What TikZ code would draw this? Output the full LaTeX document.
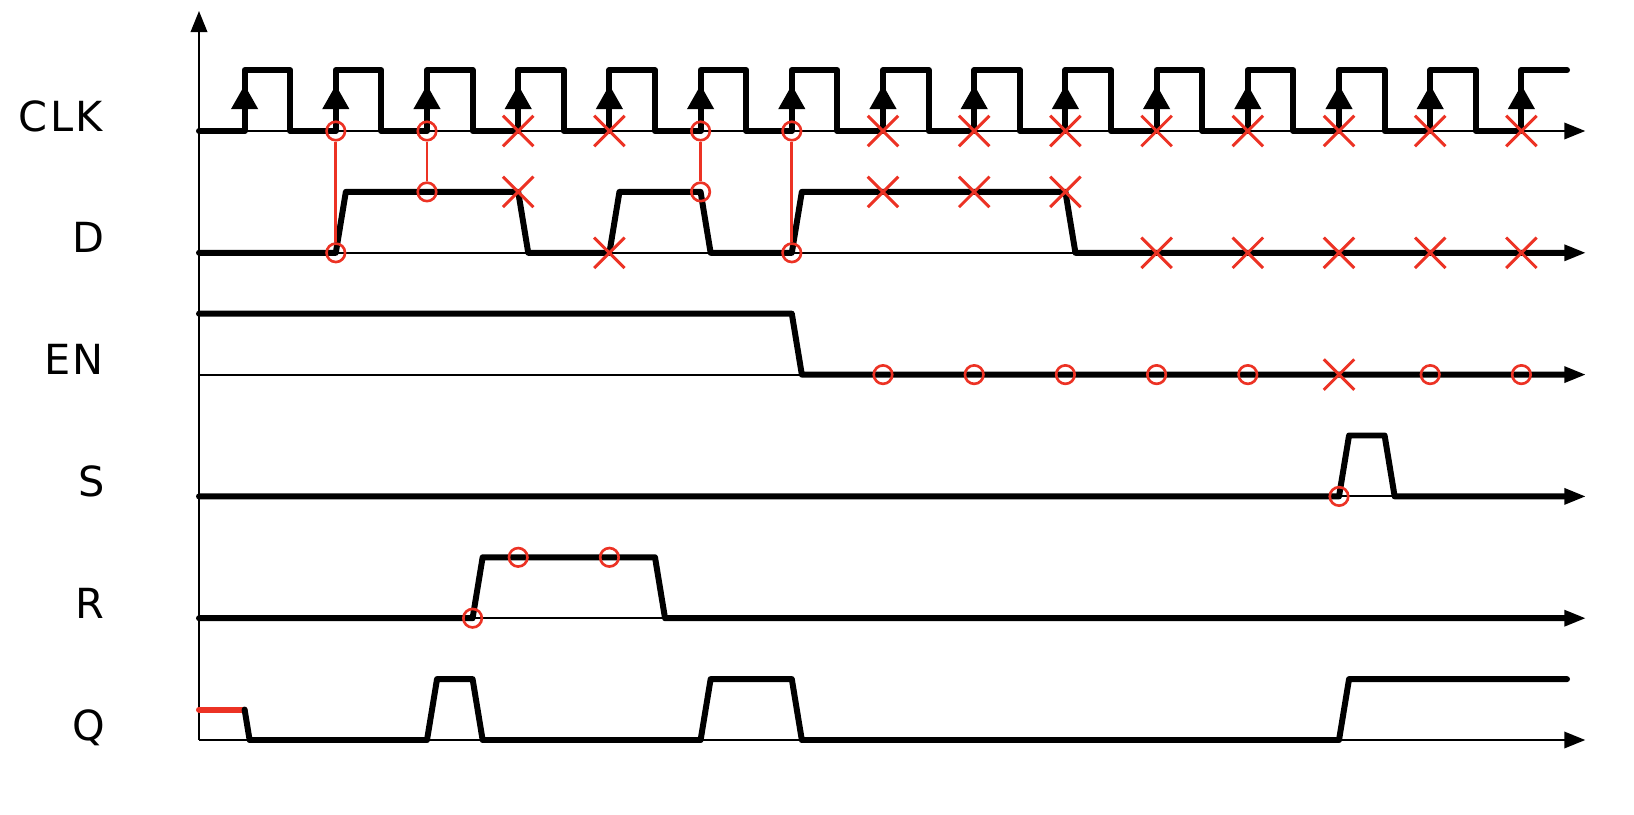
\documentclass[tikz,border=0pt]{standalone}
\usepackage{fontspec}
\newfontfamily\sigfont[LetterSpace=6]{DejaVu Sans}
\usetikzlibrary{arrows.meta,shapes.misc}

\definecolor{hitred}{RGB}{236,50,36}

\begin{document}
\begin{tikzpicture}[
    x=0.912cm, y=1.218cm,
    axis/.style={line width=1.1pt, -{Triangle[length=4.2mm, width=3.3mm]}},
    sig/.style={line width=3.4pt, line cap=round, line join=round},
    edgearrow/.style={line width=3.4pt, -{Triangle[length=4.9mm, width=5.1mm]}},
    hit/.style={circle, draw=hitred, line width=1.5pt, minimum size=3.7mm, inner sep=0pt},
    miss/.style={cross out, draw=hitred, line width=1.7pt, minimum size=5.5mm, inner sep=0pt},
    link/.style={draw=hitred, line width=1.5pt},
    lbl/.style={anchor=base east, inner sep=0pt, font=\sigfont\fontsize{23.6pt}{28pt}\selectfont}
]
\useasboundingbox (-3.98cm,2.62cm) rectangle (28.7cm,-13.66cm);

% Signal names
\node[lbl] (lclk) at (-2.1,0) {CLK};
\node[lbl] (ld) at (-2.06,-2) {D};
\node[lbl] (len) at (-2.08,-4) {EN};
\node[lbl] (ls) at (-2.06,-6) {S};
\node[lbl] (lr) at (-2.06,-8) {R};
\node[lbl] (lq) at (-2.06,-10) {Q};

% Axes
\draw[axis] (0,-10) -- (0,1.97);
\foreach \row in {0,-2,-4,-6,-8,-10}
    \draw[axis] (0,\row) -- (30.4,\row);

% Waveforms
\draw[sig] (0,0) \foreach \t in {1,3,...,27} { -- (\t,0) -- (\t,1) -- (\t+1,1) -- (\t+1,0) } -- (29,0) -- (29,1) -- (30,1);
\draw[sig] (0,-2) -- (3,-2) -- (3.22,-1) -- (7,-1) -- (7.22,-2) -- (9,-2) -- (9.22,-1) -- (11,-1) -- (11.22,-2)
    -- (13,-2) -- (13.22,-1) -- (19,-1) -- (19.22,-2) -- (30,-2);
\draw[sig] (0,-3) -- (13,-3) -- (13.22,-4) -- (30,-4);
\draw[sig] (0,-6) -- (25,-6) -- (25.22,-5) -- (26,-5) -- (26.22,-6) -- (30,-6);
\draw[sig] (0,-8) -- (6,-8) -- (6.22,-7) -- (10,-7) -- (10.22,-8) -- (30,-8);
\draw[sig, draw=hitred] (0,-9.5) -- (1,-9.5);
\draw[sig] (1,-9.5) -- (1.11,-10) -- (5,-10) -- (5.22,-9) -- (6,-9) -- (6.22,-10) -- (11,-10) -- (11.22,-9)
    -- (13,-9) -- (13.22,-10) -- (25,-10) -- (25.22,-9) -- (30,-9);

% Rising clock edges
\foreach \t in {1,3,...,29}
    \draw[edgearrow] (\t,0) -- (\t,0.76);

% CLK samples
\foreach \t in {3,5,11,13}
    \node[hit] (c\t) at (\t,0) {};
\foreach \t in {7,9,15,17,19,21,23,25,27,29}
    \node[miss] (cx\t) at (\t,0) {};

% D samples
\node[hit] (d3) at (3,-2) {};
\node[hit] (d5) at (5,-1) {};
\node[hit] (d11) at (11,-1) {};
\node[hit] (d13) at (13,-2) {};
\foreach \t in {7,15,17,19}
    \node[miss] (dxh\t) at (\t,-1) {};
\foreach \t in {9,21,23,25,27,29}
    \node[miss] (dxl\t) at (\t,-2) {};

% EN samples
\foreach \t in {15,17,19,21,23,27,29}
    \node[hit] (en\t) at (\t,-4) {};
\node[miss] (enx25) at (25,-4) {};

% S and R samples
\node[hit] (s25) at (25,-6) {};
\node[hit] (r6) at (6,-8) {};
\node[hit] (r7) at (7,-7) {};
\node[hit] (r9) at (9,-7) {};

% Clock to data
\draw[link] (c3) -- (d3);
\draw[link] (c5) -- (d5);
\draw[link] (c11) -- (d11);
\draw[link] (c13) -- (d13);

\end{tikzpicture}
\end{document}
